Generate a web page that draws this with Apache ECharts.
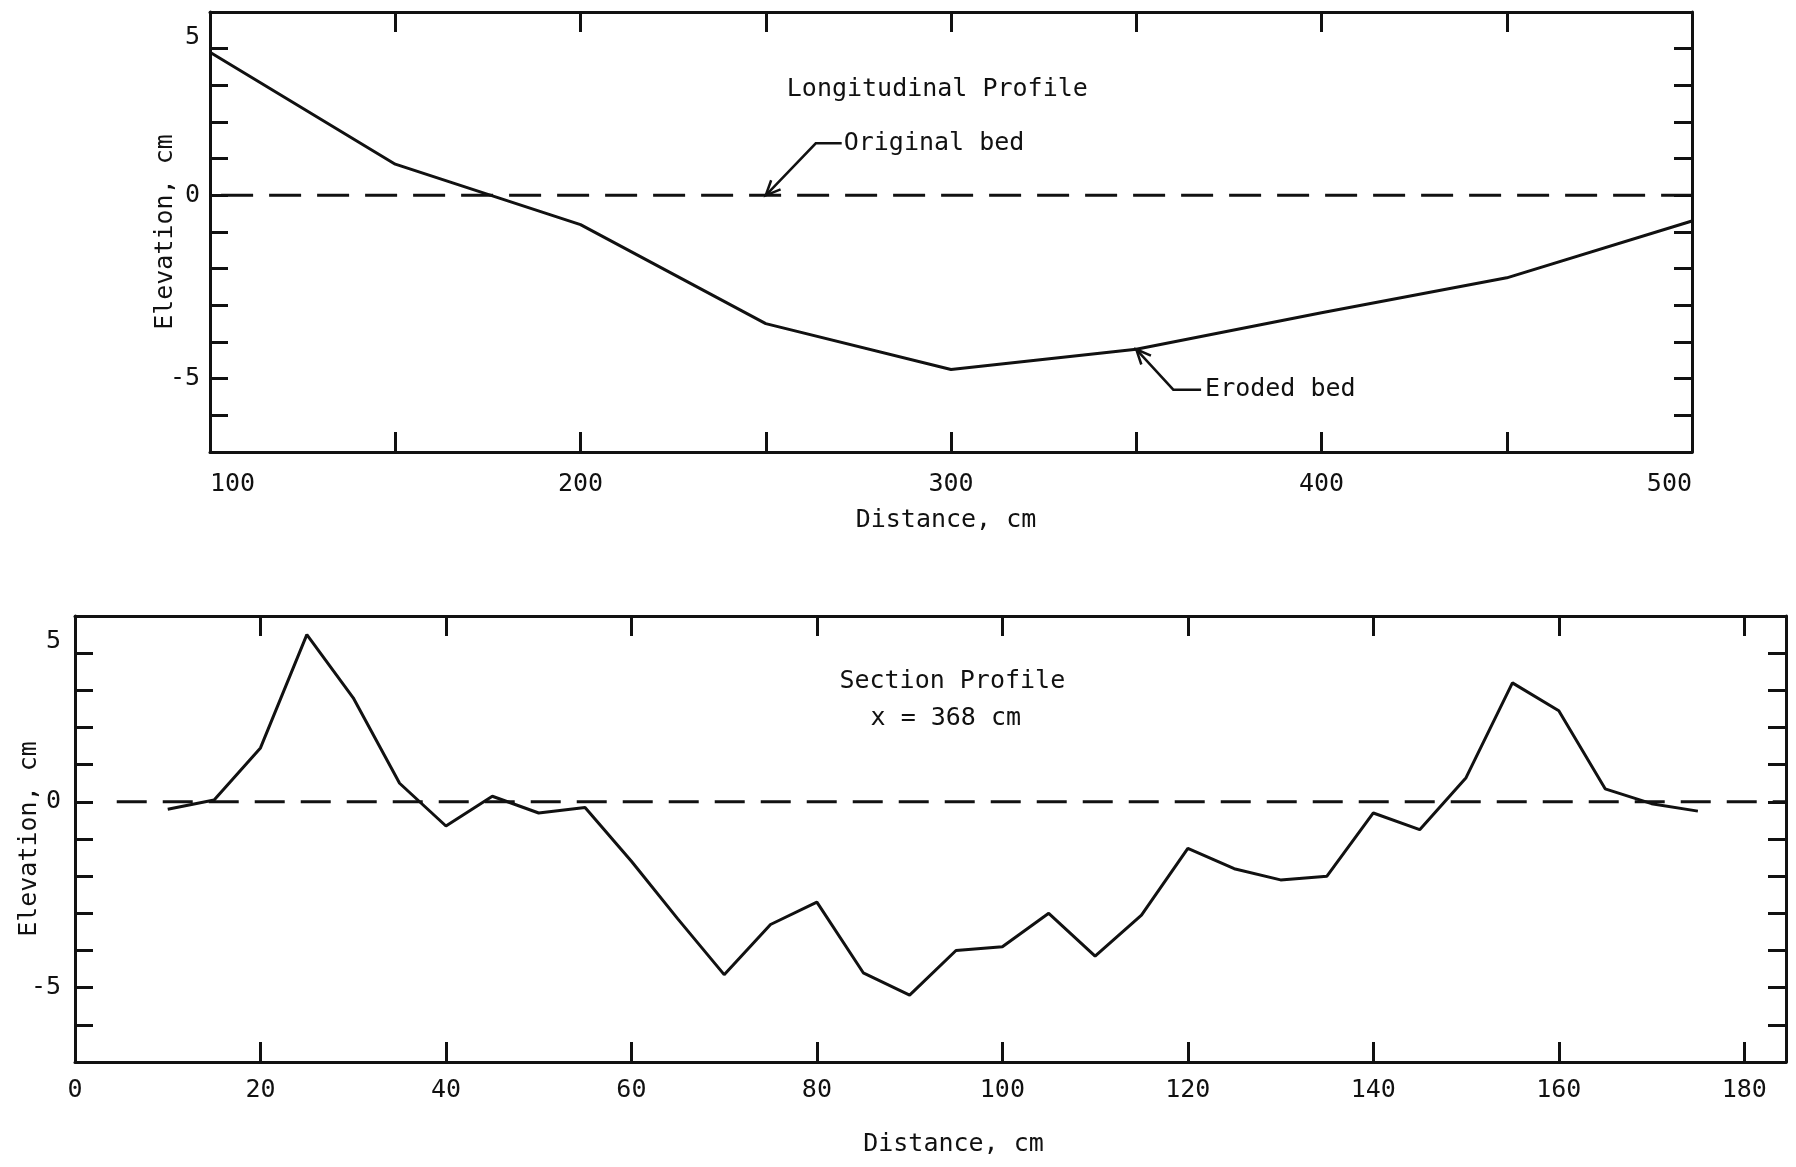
<!DOCTYPE html>
<html>
<head>
<meta charset="utf-8">
<script src="https://cdn.jsdelivr.net/npm/echarts@6/dist/echarts.min.js"></script>
<style>
html,body{margin:0;padding:0;background:#ffffff;}
#chart{width:1796px;height:1167px;}
</style>
</head>
<body>
<div id="chart"></div>
<script>
// ---------- data ----------
// Longitudinal profile (top panel)
const longDistance = [100, 150, 200, 250, 300, 350, 400, 450, 500];
const longEroded   = [3.9, 0.85, -0.8, -3.5, -4.75, -4.2, -3.2, -2.25, -0.7];
const longOrigDistance = [103, 500];
const longOrigElev     = [0, 0];

// Section profile, x = 368 cm (bottom panel)
const secDistance = [10, 15, 20, 25, 30, 35, 40, 45, 50, 55, 60, 65, 70, 75, 80, 85, 90,
                     95, 100, 105, 110, 115, 120, 125, 130, 135, 140, 145, 150, 155, 160, 165, 170, 175];
const secElev     = [-0.2, 0.05, 1.45, 4.5, 2.8, 0.5, -0.65, 0.15, -0.3, -0.15, -1.6, -3.15, -4.65, -3.3, -2.7, -4.6, -5.2,
                     -4.0, -3.9, -3.0, -4.15, -3.05, -1.25, -1.8, -2.1, -2.0, -0.3, -0.75, 0.65, 3.2, 2.45, 0.35, -0.05, -0.25];
const secOrigDistance = [4.5, 184.5];
const secOrigElev     = [0, 0];

// tick labels
const longXLabels = [100, 200, 300, 400, 500];
const secXLabels  = [0, 20, 40, 60, 80, 100, 120, 140, 160, 180];
const yLabels     = [5, 0, -5];

// ---------- styling ----------
const INK = '#111111';
const FONT = '"DejaVu Sans Mono", "Liberation Mono", monospace';
const LW = 3;

function pairs(xs, ys) { return xs.map((x, i) => [x, ys[i]]); }

function xAxisPair(gridIndex, min, max, interval, labels, nameGap, namePad, labelMargin) {
  const common = {
    type: 'value', gridIndex: gridIndex, min: min, max: max, interval: interval,
    axisLine: { show: true, onZero: false, lineStyle: { color: INK, width: LW } },
    axisTick: { show: true, inside: true, length: 20, lineStyle: { color: INK, width: LW } },
    splitLine: { show: false }
  };
  return [
    Object.assign({}, common, {
      position: 'bottom',
      axisLabel: {
        show: true, margin: labelMargin, color: INK, fontFamily: FONT, fontSize: 25,
        alignMinLabel: gridIndex === 0 ? 'left' : 'center',
        alignMaxLabel: gridIndex === 0 ? 'right' : 'center',
        formatter: v => labels.indexOf(v) >= 0 ? String(v) : ''
      },
      name: 'Distance, cm', nameLocation: 'middle', nameGap: nameGap, nameMoveOverlap: false,
      nameTextStyle: { color: INK, fontFamily: FONT, fontSize: 25, padding: namePad }
    }),
    Object.assign({}, common, {
      position: 'top',
      axisLabel: { show: false }
    })
  ];
}

function yAxisPair(gridIndex, labelMargin, nameGap) {
  const common = {
    type: 'value', gridIndex: gridIndex, min: -7, max: 5, interval: 1,
    axisLine: { show: true, onZero: false, lineStyle: { color: INK, width: LW } },
    axisTick: { show: true, inside: true, length: 18, lineStyle: { color: INK, width: LW } },
    splitLine: { show: false }
  };
  return [
    Object.assign({}, common, {
      position: 'left',
      axisLabel: {
        show: true, margin: labelMargin, color: INK, fontFamily: FONT, fontSize: 25,
        formatter: v => yLabels.indexOf(v) >= 0 ? (v === 5 ? '{t|5}' : String(v)) : '',
        rich: { t: { padding: [50, 0, 0, 0], color: INK, fontFamily: FONT, fontSize: 25 } }
      },
      name: 'Elevation, cm', nameLocation: 'middle', nameGap: nameGap, nameRotate: 90,
      nameMoveOverlap: false,
      nameTextStyle: { color: INK, fontFamily: FONT, fontSize: 25 }
    }),
    Object.assign({}, common, {
      position: 'right',
      axisLabel: { show: false }
    })
  ];
}

const chart = echarts.init(document.getElementById('chart'), null, { renderer: 'canvas' });

const option = {
  backgroundColor: '#ffffff',
  animation: false,
  grid: [
    { left: 210, right: 104, top: 12, height: 440, outerBoundsMode: 'none', containLabel: false },
    { left: 75, right: 10, top: 616, height: 446, outerBoundsMode: 'none', containLabel: false }
  ],
  xAxis: [].concat(
    xAxisPair(0, 100, 500, 50, longXLabels, 56, [0, 10, 0, 0], 20),
    xAxisPair(1, 0, 184.5, 20, secXLabels, 70, [0, 0, 0, 46], 16)
  ),
  yAxis: [].concat(
    yAxisPair(0, 10, 32),
    yAxisPair(1, 14, 33)
  ),
  series: [
    { type: 'line', name: 'Eroded bed', xAxisIndex: 0, yAxisIndex: 0,
      data: pairs(longDistance, longEroded), showSymbol: false,
      lineStyle: { color: INK, width: LW } },
    { type: 'line', name: 'Original bed', xAxisIndex: 0, yAxisIndex: 0,
      data: pairs(longOrigDistance, longOrigElev), showSymbol: false,
      lineStyle: { color: INK, width: LW, type: [32, 16] } },
    { type: 'line', name: 'Section', xAxisIndex: 2, yAxisIndex: 2,
      data: pairs(secDistance, secElev), showSymbol: false,
      lineStyle: { color: INK, width: LW } },
    { type: 'line', name: 'Section original', xAxisIndex: 2, yAxisIndex: 2,
      data: pairs(secOrigDistance, secOrigElev), showSymbol: false,
      lineStyle: { color: INK, width: LW, type: [30, 16] } }
  ]
};
chart.setOption(option);

// ---------- annotations anchored in data coordinates ----------
const topFinder = { xAxisIndex: 0, yAxisIndex: 0 };
const botFinder = { xAxisIndex: 2, yAxisIndex: 2 };
function px(finder, p) { return chart.convertToPixel(finder, p); }

function textEl(p, str, align) {
  return { type: 'text', silent: true, z: 100,
    style: { text: str, x: p[0], y: p[1], fill: INK, font: '25px ' + FONT,
      align: align, verticalAlign: 'middle', textAlign: align, textVerticalAlign: 'middle' } };
}
function leader(tip, knee, start) {
  const els = [];
  els.push({ type: 'polyline', silent: true, z: 100,
    shape: { points: [start, knee, tip] },
    style: { stroke: INK, lineWidth: 2.5, fill: null } });
  const dx = tip[0] - knee[0], dy = tip[1] - knee[1];
  const L = Math.sqrt(dx * dx + dy * dy);
  const ux = dx / L, uy = dy / L;
  const a = 0.42, len = 16;
  const c = Math.cos(a), s = Math.sin(a);
  const b1 = [tip[0] - len * (ux * c - uy * s), tip[1] - len * (uy * c + ux * s)];
  const b2 = [tip[0] - len * (ux * c + uy * s), tip[1] - len * (uy * c - ux * s)];
  els.push({ type: 'polyline', silent: true, z: 100,
    shape: { points: [b1, tip, b2] },
    style: { stroke: INK, lineWidth: 2.5, fill: null } });
  return els;
}

const graphics = [];
graphics.push(textEl(px(topFinder, [296.3, 2.88]), 'Longitudinal Profile', 'center'));

const obTip = px(topFinder, [250, 0]);
const obKnee = px(topFinder, [263.5, 1.42]);
const obStart = px(topFinder, [270.5, 1.42]);
graphics.push.apply(graphics, leader(obTip, obKnee, obStart));
graphics.push(textEl([obStart[0] + 2, obStart[1]], 'Original bed', 'left'));

const ebTip = px(topFinder, [350, -4.2]);
const ebKnee = px(topFinder, [360, -5.3]);
const ebStart = px(topFinder, [367.5, -5.3]);
graphics.push.apply(graphics, leader(ebTip, ebKnee, ebStart));
graphics.push(textEl([ebStart[0] + 4, ebStart[1]], 'Eroded bed', 'left'));

graphics.push(textEl(px(botFinder, [94.6, 3.23]), 'Section Profile', 'center'));
graphics.push(textEl(px(botFinder, [93.9, 2.24]), 'x = 368 cm', 'center'));

chart.setOption({ graphic: graphics });
</script>
</body>
</html>
